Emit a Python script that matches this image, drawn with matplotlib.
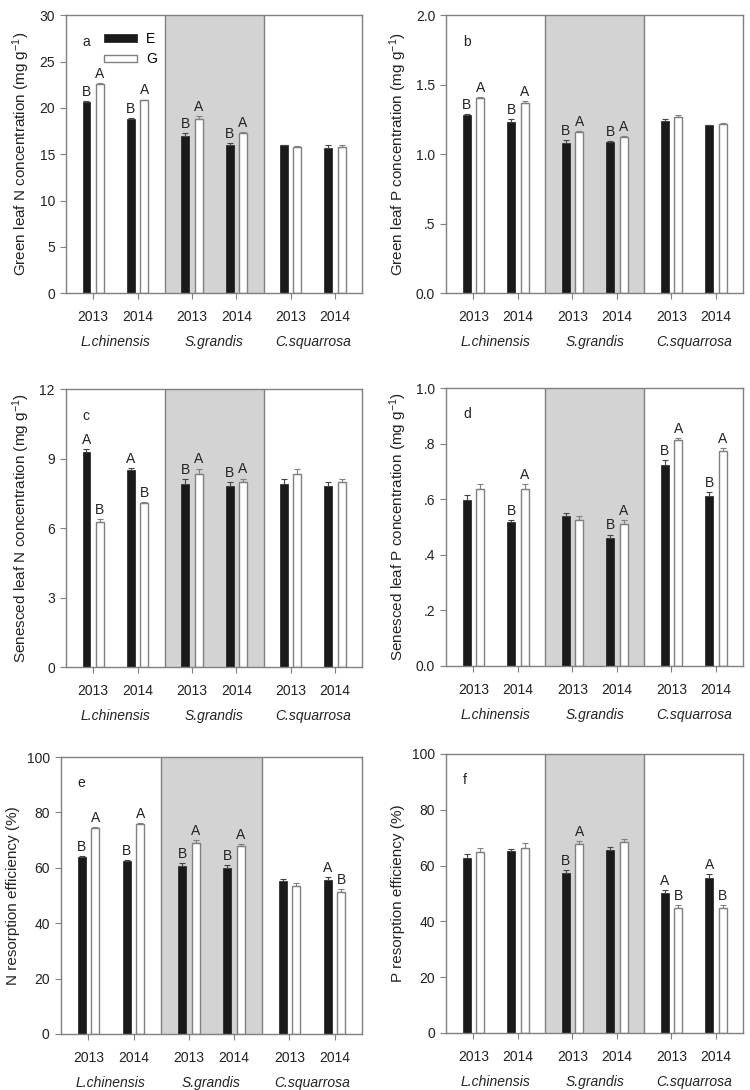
import matplotlib
matplotlib.use("Agg")
import matplotlib.pyplot as plt
from matplotlib.patches import Patch
import numpy as np

plt.rcParams['font.family'] = ['Liberation Sans', 'DejaVu Sans']
plt.rcParams['mathtext.default'] = 'regular'

species = ["L.chinensis", "S.grandis", "C.squarrosa"]
years = ["2013", "2014"]

# panel a - green leaf N
green_n_E = [20.6, 18.8, 17.0, 16.0, 16.0, 15.7]
green_n_E_err = [0.15, 0.1, 0.25, 0.2, 0.05, 0.25]
green_n_G = [22.6, 20.85, 18.85, 17.25, 15.75, 15.75]
green_n_G_err = [0.05, 0.05, 0.25, 0.1, 0.15, 0.25]
green_n_let_E = ["B", "B", "B", "B", "", ""]
green_n_let_G = ["A", "A", "A", "A", "", ""]

# panel b - green leaf P
green_p_E = [1.281, 1.233, 1.083, 1.09, 1.24, 1.207]
green_p_E_err = [0.005, 0.017, 0.017, 0.005, 0.01, 0.005]
green_p_G = [1.408, 1.372, 1.157, 1.123, 1.265, 1.217]
green_p_G_err = [0.005, 0.012, 0.012, 0.01, 0.014, 0.007]
green_p_let_E = ["B", "B", "B", "B", "", ""]
green_p_let_G = ["A", "A", "A", "A", "", ""]

# panel c - senesced leaf N
sen_n_E = [9.30, 8.53, 7.89, 7.83, 7.89, 7.83]
sen_n_E_err = [0.11, 0.06, 0.23, 0.14, 0.23, 0.14]
sen_n_G = [6.26, 7.08, 8.32, 8.00, 8.32, 8.00]
sen_n_G_err = [0.13, 0.04, 0.25, 0.14, 0.25, 0.14]
sen_n_let_E = ["A", "A", "B", "B", "", ""]
sen_n_let_G = ["B", "B", "A", "A", "", ""]

# panel d - senesced leaf P
sen_p_E = [0.598, 0.517, 0.541, 0.459, 0.723, 0.61]
sen_p_E_err = [0.017, 0.007, 0.01, 0.014, 0.019, 0.017]
sen_p_G = [0.635, 0.635, 0.526, 0.511, 0.814, 0.773]
sen_p_G_err = [0.02, 0.019, 0.013, 0.013, 0.007, 0.011]
sen_p_let_E = ["", "B", "", "B", "B", "B"]
sen_p_let_G = ["", "A", "", "A", "A", "A"]

# panel e - N resorption efficiency
nre_E = [64.0, 62.4, 60.5, 59.9, 55.2, 55.6]
nre_E_err = [0.4, 0.4, 1.4, 1.0, 0.8, 1.1]
nre_G = [74.5, 75.7, 69.0, 67.9, 53.4, 51.3]
nre_G_err = [0.3, 0.6, 1.0, 0.8, 1.0, 1.0]
nre_let_E = ["B", "B", "B", "B", "", "A"]
nre_let_G = ["A", "A", "A", "A", "", "B"]

# panel f - P resorption efficiency
pre_E = [62.8, 65.1, 57.4, 65.7, 50.0, 55.6]
pre_E_err = [1.2, 0.8, 1.1, 1.0, 1.2, 1.4]
pre_G = [64.7, 66.3, 67.9, 68.4, 44.7, 44.7]
pre_G_err = [1.6, 1.9, 0.8, 1.0, 1.2, 1.2]
pre_let_E = ["", "", "B", "", "A", "A"]
pre_let_G = ["", "", "A", "", "B", "B"]

GREY = '#808080'
SHADE = '#d3d3d3'
BLACK = '#1a1a1a'
TXT = '#222222'

centers = np.array([0.55, 1.45, 2.55, 3.45, 4.55, 5.45])
off = 0.135
bw = 0.16


def panel(ax, E, Eerr, G, Gerr, letE, letG, yticks, ytlabels, ylabel, tag):
    ax.axvspan(2, 4, color=SHADE, zorder=0, lw=0)
    ax.axvline(2, color=GREY, lw=1, zorder=1)
    ax.axvline(4, color=GREY, lw=1, zorder=1)
    xe = centers - off
    xg = centers + off
    ax.bar(xe, E, width=bw, color=BLACK, edgecolor=BLACK, lw=0.5, zorder=2)
    ax.bar(xg, G, width=bw, color='white', edgecolor=GREY, lw=1, zorder=2)
    zeros = np.zeros(len(E))
    ax.errorbar(xe, E, yerr=[zeros, Eerr], fmt='none', ecolor='#444444',
                elinewidth=0.8, capsize=2, capthick=0.8, zorder=3)
    ax.errorbar(xg, G, yerr=[zeros, Gerr], fmt='none', ecolor=GREY,
                elinewidth=0.8, capsize=2, capthick=0.8, zorder=3)
    for x, v, e, t in zip(xe, E, Eerr, letE):
        if t:
            ax.annotate(t, (x, v + e), xytext=(0, 1.5), textcoords='offset points',
                        ha='center', va='bottom', fontsize=10, color=TXT)
    for x, v, e, t in zip(xg, G, Gerr, letG):
        if t:
            ax.annotate(t, (x, v + e), xytext=(0, 1.5), textcoords='offset points',
                        ha='center', va='bottom', fontsize=10, color=TXT)

    ax.set_xlim(0, 6)
    ax.set_ylim(yticks[0], yticks[-1])
    ax.set_yticks(yticks)
    ax.set_yticklabels(ytlabels)
    ax.set_xticks(centers)
    ax.set_xticklabels(years * 3)
    ax.tick_params(direction='out', length=4, width=0.8, color=GREY,
                   labelcolor=TXT, labelsize=10, pad=4)
    ax.tick_params(axis='x', pad=8)
    for s in ax.spines.values():
        s.set_color(GREY)
        s.set_linewidth(1)
    ax.set_ylabel(ylabel, fontsize=11, color=TXT, labelpad=5)
    for i, sp in enumerate(species):
        ax.annotate(sp, (2 * i + 1, 0), xycoords=('data', 'axes fraction'),
                    xytext=(0, -35), textcoords='offset points',
                    ha='center', va='center', fontsize=10, style='italic', color=TXT)
    ax.text(0.056, 0.905, tag, transform=ax.transAxes, fontsize=10, color=TXT,
            ha='left', va='center')


fig = plt.figure(figsize=(7.5, 10.9), dpi=100)

ax_a = fig.add_axes([0.088, 0.731, 0.395, 0.255])
ax_b = fig.add_axes([0.595, 0.731, 0.396, 0.255])
ax_c = fig.add_axes([0.088, 0.388, 0.395, 0.255])
ax_d = fig.add_axes([0.595, 0.389, 0.396, 0.255])
ax_e = fig.add_axes([0.081, 0.0514, 0.402, 0.254])
ax_f = fig.add_axes([0.595, 0.0523, 0.396, 0.256])

ulab = " (mg g$^{-1}$)"
panel(ax_a, green_n_E, green_n_E_err, green_n_G, green_n_G_err, green_n_let_E, green_n_let_G,
      [0, 5, 10, 15, 20, 25, 30], ["0", "5", "10", "15", "20", "25", "30"],
      "Green leaf N concentration" + ulab, "a")
panel(ax_b, green_p_E, green_p_E_err, green_p_G, green_p_G_err, green_p_let_E, green_p_let_G,
      [0, 0.5, 1.0, 1.5, 2.0], ["0.0", ".5", "1.0", "1.5", "2.0"],
      "Green leaf P concentration" + ulab, "b")
panel(ax_c, sen_n_E, sen_n_E_err, sen_n_G, sen_n_G_err, sen_n_let_E, sen_n_let_G,
      [0, 3, 6, 9, 12], ["0", "3", "6", "9", "12"],
      "Senesced leaf N concentration" + ulab, "c")
panel(ax_d, sen_p_E, sen_p_E_err, sen_p_G, sen_p_G_err, sen_p_let_E, sen_p_let_G,
      [0, 0.2, 0.4, 0.6, 0.8, 1.0], ["0.0", ".2", ".4", ".6", ".8", "1.0"],
      "Senesced leaf P concentration" + ulab, "d")
panel(ax_e, nre_E, nre_E_err, nre_G, nre_G_err, nre_let_E, nre_let_G,
      [0, 20, 40, 60, 80, 100], ["0", "20", "40", "60", "80", "100"],
      "N resorption efficiency (%)", "e")
panel(ax_f, pre_E, pre_E_err, pre_G, pre_G_err, pre_let_E, pre_let_G,
      [0, 20, 40, 60, 80, 100], ["0", "20", "40", "60", "80", "100"],
      "P resorption efficiency (%)", "f")

handles = [Patch(facecolor=BLACK, edgecolor=BLACK, lw=0.5),
           Patch(facecolor='white', edgecolor=GREY, lw=1)]
ax_a.legend(handles, ["E", "G"], loc='upper left', bbox_to_anchor=(0.11, 0.96),
            frameon=False, fontsize=10, handlelength=2.4, handleheight=0.45,
            handletextpad=0.6, labelspacing=0.45, borderaxespad=0)

fig.savefig("out.png", dpi=100, facecolor='white')
